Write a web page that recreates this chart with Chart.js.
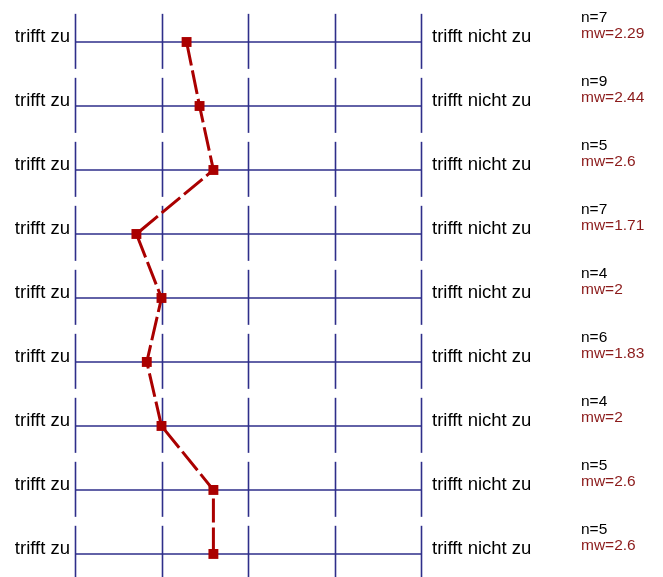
<!DOCTYPE html>
<html>
<head>
<meta charset="utf-8">
<script src="https://cdn.jsdelivr.net/npm/chart.js@4.4.1/dist/chart.umd.min.js"></script>
<style>
  html, body { margin: 0; padding: 0; background: #fff; overflow: hidden; }
  canvas { display: block; }
</style>
</head>
<body>
<canvas id="chart" width="663" height="577"></canvas>
<script>
// one row per item, scale 1 (trifft zu) .. 5 (trifft nicht zu)
const leftLabels = ['trifft zu','trifft zu','trifft zu','trifft zu','trifft zu','trifft zu','trifft zu','trifft zu','trifft zu'];
const rightLabels = ['trifft nicht zu','trifft nicht zu','trifft nicht zu','trifft nicht zu','trifft nicht zu','trifft nicht zu','trifft nicht zu','trifft nicht zu','trifft nicht zu'];
const nValues = [7, 9, 5, 7, 4, 6, 4, 5, 5];
const meanValues = [2.29, 2.44, 2.6, 1.71, 2, 1.83, 2, 2.6, 2.6];
const scaleTicks = [1, 2, 3, 4, 5];

const gridColor = '#2e2e8a';
const markColor = '#aa0000';
const textFont = '18.5px "Liberation Sans", Arial, sans-serif';
const statFont = '15.5px "Liberation Sans", Arial, sans-serif';

const points = meanValues.map((v, i) => ({ x: v, y: i + 1 }));

const profilePlugin = {
    id: 'profile',
    beforeDatasetsDraw(chart) {
        const ctx = chart.ctx;
        const xs = chart.scales.x, ys = chart.scales.y;
        ctx.save();
        ctx.strokeStyle = gridColor;
        ctx.lineWidth = 1.6;
        leftLabels.forEach((lab, i) => {
            const row = i + 1;
            const y = ys.getPixelForValue(row);
            ctx.beginPath();
            ctx.moveTo(xs.getPixelForValue(scaleTicks[0]), y);
            ctx.lineTo(xs.getPixelForValue(scaleTicks[scaleTicks.length - 1]), y);
            ctx.stroke();
            const top = ys.getPixelForValue(row - 0.44);
            const bot = ys.getPixelForValue(row + 0.42);
            scaleTicks.forEach(t => {
                const x = Math.round(xs.getPixelForValue(t)) + 0.5;
                ctx.beginPath();
                ctx.moveTo(x, top);
                ctx.lineTo(x, bot);
                ctx.stroke();
            });
        });
        ctx.restore();
    },
    afterDraw(chart) {
        const ctx = chart.ctx;
        const xs = chart.scales.x, ys = chart.scales.y;
        const x1 = xs.getPixelForValue(scaleTicks[0]);
        const x5 = xs.getPixelForValue(scaleTicks[scaleTicks.length - 1]);
        ctx.save();
        ctx.textBaseline = 'alphabetic';
        leftLabels.forEach((lab, i) => {
            const y = ys.getPixelForValue(i + 1);
            ctx.font = textFont;
            ctx.fillStyle = '#000';
            ctx.textAlign = 'right';
            ctx.fillText(lab, x1 - 5, y);
            ctx.textAlign = 'left';
            ctx.fillText(rightLabels[i], x5 + 11, y);
            ctx.font = statFont;
            ctx.fillText('n=' + nValues[i], 581, y - 20);
            ctx.fillStyle = '#8b1a1a';
            ctx.fillText('mw=' + meanValues[i], 581, y - 4);
        });
        ctx.restore();
    }
};

new Chart(document.getElementById('chart'), {
    type: 'scatter',
    data: {
        datasets: [{
            data: points,
            showLine: true,
            borderColor: markColor,
            borderWidth: 3,
            borderDash: [24, 5],
            backgroundColor: markColor,
            pointStyle: 'rect',
            pointRadius: 7,
            pointHoverRadius: 7,
            pointBorderWidth: 0,
            clip: false
        }]
    },
    options: {
        responsive: false,
        animation: false,
        layout: { autoPadding: false, padding: { left: 75, right: 242, top: 10, bottom: 0 } },
        plugins: { legend: { display: false }, tooltip: { enabled: false } },
        scales: {
            x: { type: 'linear', min: 1, max: 5, display: false },
            y: { type: 'linear', min: 0.5, max: 9.36, reverse: true, display: false }
        }
    },
    plugins: [profilePlugin]
});
</script>
</body>
</html>
